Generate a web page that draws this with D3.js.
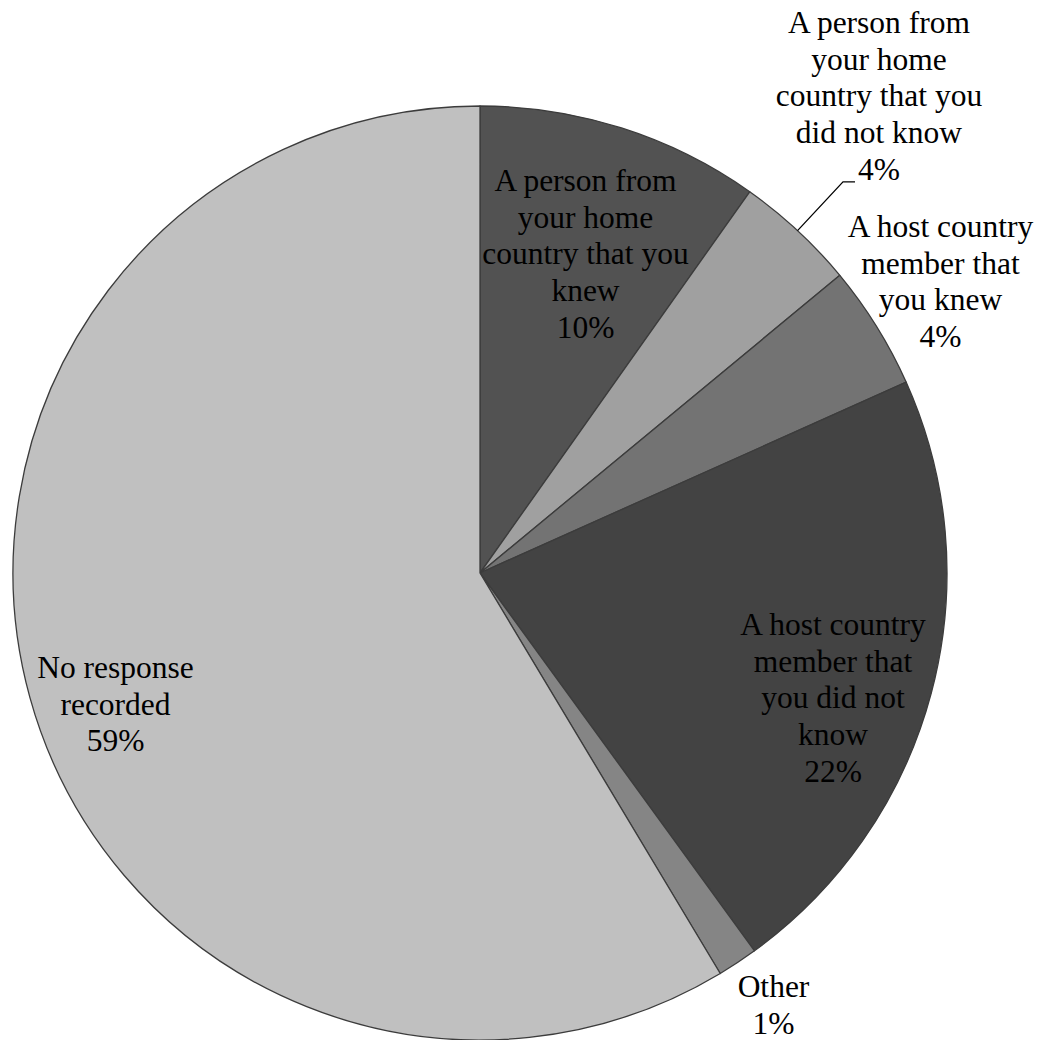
<!DOCTYPE html>
<html>
<head>
<meta charset="utf-8">
<script src="https://cdn.jsdelivr.net/npm/d3@7"></script>
<style>
  body { margin: 0; background: #fff; }
</style>
</head>
<body>
<div id="chart"></div>
<script>
// slice data, clockwise from 12 o'clock
const categories = [
  "A person from your home country that you knew",
  "A person from your home country that you did not know",
  "A host country member that you knew",
  "A host country member that you did not know",
  "Other",
  "No response recorded"
];
const values = [9.8, 4.2, 4.3, 21.7, 1.4, 58.6];
// how the category text is wrapped in each label
const labelLines = [
  ["A person from", "your home", "country that you", "knew"],
  ["A person from", "your home", "country that you", "did not know"],
  ["A host country", "member that", "you knew"],
  ["A host country", "member that", "you did not", "know"],
  ["Other"],
  ["No response", "recorded"]
];
const sliceColors = ["#525252", "#a0a0a0", "#737373", "#434343", "#858585", "#c0c0c0"];

const width = 1049;
const height = 1040;
const cx = 480, cy = 573;
const radius = 467;
const fontSize = 31.5;
const lineStep = 36.7;
const serif = "'Liberation Serif', 'Times New Roman', Tinos, 'DejaVu Serif', serif";

// label anchor: [dx, dy of first baseline] relative to pie centre
const labelAt = [
  [105.5, -382],
  [399, -540],
  [460.5, -336],
  [353, 62],
  [293.5, 424],
  [-364.5, 105]
];

const total = d3.sum(values);
const data = categories.map((c, i) => ({
  name: c,
  value: values[i],
  pct: Math.round(values[i] / total * 100) + "%",
  lines: labelLines[i],
  color: sliceColors[i],
  pos: labelAt[i]
}));

const svg = d3.select("#chart")
  .append("svg")
  .attr("width", width)
  .attr("height", height);

const g = svg.append("g")
  .attr("transform", `translate(${cx},${cy})`);

const pie = d3.pie()
  .value(d => d.value)
  .sort(null);

const arc = d3.arc()
  .innerRadius(0)
  .outerRadius(radius);

const arcs = pie(data);

g.selectAll("path.slice")
  .data(arcs)
  .enter()
  .append("path")
  .attr("class", "slice")
  .attr("d", arc)
  .attr("fill", d => d.data.color)
  .attr("stroke", "#3c3c3c")
  .attr("stroke-width", 1.3)
  .attr("stroke-linejoin", "round");

// labels
const labels = g.selectAll("text.label")
  .data(arcs)
  .enter()
  .append("text")
  .attr("class", "label")
  .attr("text-anchor", "middle")
  .attr("font-family", serif)
  .attr("font-size", fontSize)
  .attr("fill", "#000");

labels.each(function (d) {
  const t = d3.select(this);
  const lines = d.data.lines.concat([d.data.pct]);
  lines.forEach((ln, i) => {
    t.append("tspan")
      .attr("x", d.data.pos[0])
      .attr("y", d.data.pos[1] + i * lineStep)
      .text(ln);
  });
});

// leader line for the small slice labelled outside the pie
arcs.filter((d, i) => i === 1).forEach(d => {
  const mid = (d.startAngle + d.endAngle) / 2;
  const sx = Math.sin(mid) * radius;
  const sy = -Math.cos(mid) * radius;
  const nLines = d.data.lines.length;
  const ey = d.data.pos[1] + nLines * lineStep + 2;
  const ex = d.data.pos[0] - 24;
  g.append("polyline")
    .attr("points", [[sx, sy], [ex - 12, ey], [ex, ey]].map(p => p.join(",")).join(" "))
    .attr("fill", "none")
    .attr("stroke", "#000")
    .attr("stroke-width", 1.3);
});
</script>
</body>
</html>
